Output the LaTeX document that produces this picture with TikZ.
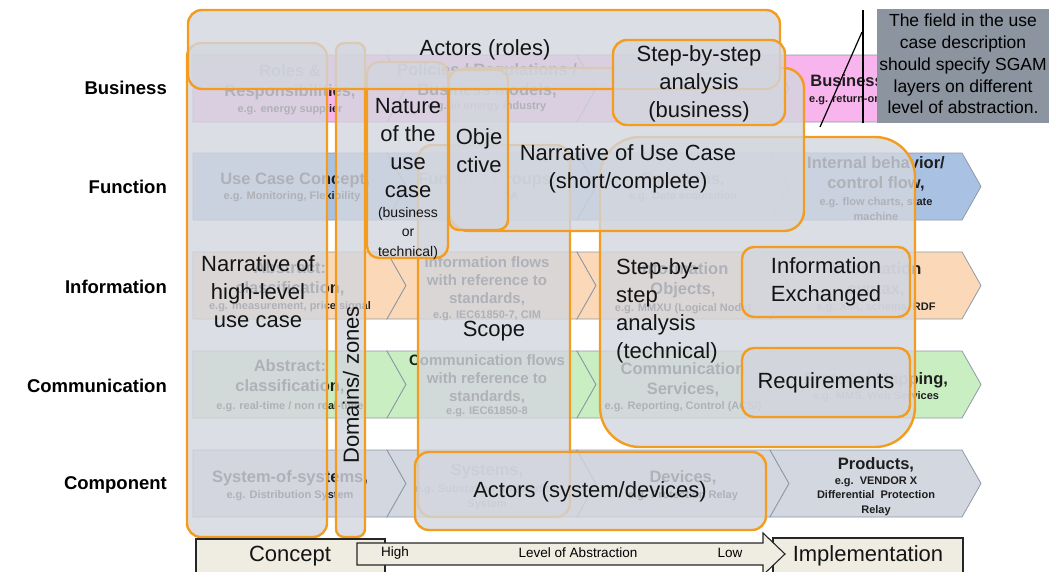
\documentclass[tikz,border=0pt]{standalone}
\usepackage{fontspec}
\setmainfont{Liberation Sans}
\usetikzlibrary{calc}

\definecolor{ovfill}{HTML}{D3D6DE}
\definecolor{ovline}{HTML}{F39C1F}
\definecolor{bizpink}{HTML}{F8B4EC}
\definecolor{funblue}{HTML}{A9C2E3}
\definecolor{infpeach}{HTML}{FBD9B8}
\definecolor{comgreen}{HTML}{C9EEC2}
\definecolor{cmpgray}{HTML}{D3D7E0}
\definecolor{chevline}{HTML}{8E98A6}
\definecolor{notegray}{HTML}{8C949F}
\definecolor{beige}{HTML}{EFEDE2}
\definecolor{inkdark}{HTML}{1E1E1E}

% chevron with a flat left end / with a notched left end
\newcommand{\chevflat}[4]{\draw[chev, fill=#4] (#1,#3) -- (#2,#3) -- (#2+19,#3+33.5) -- (#2,#3+67) -- (#1,#3+67) -- cycle;}
\newcommand{\chevnotch}[4]{\draw[chev, fill=#4] (#1,#3) -- (#2,#3) -- (#2+19,#3+33.5) -- (#2,#3+67) -- (#1,#3+67) -- (#1+19,#3+33.5) -- cycle;}

\begin{document}
\begin{tikzpicture}[x=1pt,y=-1pt,
  chev/.style={draw=chevline, line width=0.8pt},
  ct/.style={align=center, inner sep=0, text=inkdark, font=\bfseries\fontsize{16.5}{20}\selectfont},
  cts/.style={align=center, inner sep=0, text=inkdark, font=\bfseries\fontsize{15}{18}\selectfont},
  cs/.style={align=center, inner sep=0, text=inkdark, font=\bfseries\fontsize{11}{14.5}\selectfont},
  ov/.style={draw=ovline, line width=2.4pt, fill=ovfill, fill opacity=0.8, rounded corners=14pt},
  ovt/.style={align=center, inner sep=0, text=black!92, font=\fontsize{22}{28}\selectfont},
  layer/.style={anchor=east, inner sep=0, text=black, font=\bfseries\fontsize{18.5}{22}\selectfont},
  bot/.style={draw=black!85, line width=1.1pt, fill=beige},
  note/.style={align=center, inner sep=0, text=black, font=\fontsize{17.5}{21.8}\selectfont}]
\useasboundingbox (0,0) rectangle (1049,571);
\clip (0,0) rectangle (1049,571);

% ---------- layer chevrons ----------
\foreach \yt/\col in {55/bizpink,153/funblue,252/infpeach,351/comgreen,450/cmpgray}{
  \chevflat{193}{387}{\yt}{\col}
  \chevnotch{387}{577}{\yt}{\col}
  \chevnotch{577}{770}{\yt}{\col}
  \chevnotch{770}{962}{\yt}{\col}
}

% Business
\node[ct] (b1t) at (290,82) {Roles \&\\Responsibilities,};
\node[cs] (b1s) at (290,110) {e.g. energy supplier};
\node[ct] (b2t) at (487,81) {Policies / Regulations /\\Business Models,};
\node[cs] (b2s) at (487,107) {e.g. in energy industry};
\node[ct] (b4t) at (876,82) {Business Cases,};
\node[cs] (b4s) at (876,100) {e.g. return-on-investment};
% Function
\node[ct] (f1t) at (295,180) {Use Case Concept,};
\node[cs] (f1s) at (292,197) {e.g. Monitoring, Flexibility};
\node[ct] (f2t) at (487,180) {Function Groups,};
\node[cs] (f2s) at (487,197) {e.g. SCADA};
\node[ct] (f3t) at (683,180) {Functions,};
\node[cs] (f3s) at (683,197) {e.g. Data acquisition};
\node[ct] (f4t) at (876,174) {Internal behavior/\\control flow,};
\node[cs] (f4s) at (876,209) {e.g. flow charts, state\\machine};
% Information
\node[ct] (i1t) at (290,279) {Abstract:\\classification,};
\node[cs] (i1s) at (290,307) {e.g. measurement, price signal};
\node[cts] (i2t) at (487,281) {Information flows\\with reference to\\standards,};
\node[cs] (i2s) at (487,316) {e.g. IEC61850-7, CIM};
\node[ct] (i3t) at (683,280) {Information\\Objects,};
\node[cs] (i3s) at (683,309) {e.g. MMXU (Logical Node)};
\node[ct] (i4t) at (876,280) {Information\\syntax,};
\node[cs] (i4s) at (876,308) {e.g. XML schema, RDF};
% Communication
\node[ct] (m1t) at (290,377) {Abstract:\\classification,};
\node[cs] (m1s) at (290,407) {e.g. real-time / non real-time};
\node[cts] (m2t) at (487,379) {Communication flows\\with reference to\\standards,};
\node[cs] (m2s) at (487,412) {e.g. IEC61850-8};
\node[ct] (m3t) at (683,380) {Communication\\Services,};
\node[cs] (m3s) at (683,407) {e.g. Reporting, Control (ACSI)};
\node[ct] (m4t) at (876,380) {Protocol Mapping,};
\node[cs] (m4s) at (876,397) {e.g. MMS, Web Services};
% Component
\node[ct] (p1t) at (290,478) {System-of-systems,};
\node[cs] (p1s) at (290,496) {e.g. Distribution System};
\node[ct] (p2t) at (487,471) {Systems,};
\node[cs] (p2s) at (487,497) {e.g. Substation Automation\\System};
\node[ct] (p3t) at (683,478) {Devices,};
\node[cs] (p3s) at (683,496) {e.g. Protection Relay};
\node[ct] (p4t) at (876,465) {Products,};
\node[cs] (p4s) at (876,496) {e.g.\ \ VENDOR X\\Differential\ \ Protection\\Relay};

% ---------- layer names ----------
\node[layer] (lbus) at (167,88) {Business};
\node[layer] (lfun) at (167,187) {Function};
\node[layer] (linf) at (167,287) {Information};
\node[layer] (lcom) at (167,386) {Communication};
\node[layer] (lcmp) at (167,485) {Component};

% ---------- use case description fields ----------
\draw[ov] (187,43) rectangle (327,537);
\node[ovt] (hl) at (258,292) {Narrative of\\high-level\\use case};

\draw[ov, rounded corners=8pt] (336,43) rectangle (365,537);
\node[ovt, rotate=90] (dz) at (351,385) {Domains/ zones};

\draw[ov] (418,145) rectangle (570,517);
\node[ovt] (scope) at (494,331) {Scope};

\draw[ov, rounded corners=40pt] (600,137) rectangle (915,447);
\node[ovt, align=left, anchor=west] (sbt) at (616,311) {Step-by-\\step\\analysis\\(technical)};

\draw[ov, rounded corners=12pt] (367,62) rectangle (448,258);
\node[ovt] (nat) at (408,148) {Nature\\of the\\use\\case};
\node[ovt, font=\fontsize{14}{19.5}\selectfont] (natsub) at (408,233) {(business\\or\\technical)};

\draw[ov, rounded corners=20pt] (449,68) rectangle (804,231);
\node[ovt] (nuc) at (628,169) {Narrative of Use Case\\(short/complete)};

\draw[ov, rounded corners=10pt] (449,70) rectangle (508,230);
\node[ovt] (obj) at (479,151) {Obje\\ctive};

\draw[ov] (188,10) rectangle (780,89);
\node[ovt] (roles) at (485,50) {Actors (roles)};

\draw[ov] (613,40) rectangle (785,125);
\node[ovt] (sbb) at (699,84) {Step-by-step\\analysis\\(business)};

\draw[ov, rounded corners=12pt] (742,247) rectangle (910,317);
\node[ovt] (ie) at (826,282) {Information\\Exchanged};

\draw[ov, rounded corners=12pt] (742,348) rectangle (910,417);
\node[ovt] (req) at (826,383) {Requirements};

\draw[ov] (415,452) rectangle (766,530);
\node[ovt] (asd) at (590,492) {Actors (system/devices)};

% ---------- remark ----------
\fill[notegray] (877,9) rectangle (1049,123);
\node[note] (rem) at (963,64) {The field in the use\\case description\\should specify SGAM\\layers on different\\level of abstraction.};
\coordinate (vtop) at (863,10);
\coordinate (vbot) at (863,123);
\coordinate (dtop) at (862,32);
\coordinate (dbot) at (820,127);
\draw[black, line width=1.2pt] (vtop) -- (vbot);
\draw[black, line width=1.2pt] (dtop) -- (dbot);

% ---------- level of abstraction ----------
\draw[bot] (196,539) rectangle (385,590);
\node[ovt] (concept) at (290,556) {Concept};
\draw[bot] (773,538) rectangle (963,590);
\draw[bot] (357,543) -- (763,543) -- (763,533) -- (785,554) -- (763,575) -- (763,565) -- (357,565) -- cycle;
\node[ovt] (impl) at (868,556) {Implementation};
\node[inner sep=0, font=\fontsize{13.5}{16}\selectfont] (high) at (395,553) {High};
\node[inner sep=0, font=\fontsize{13.5}{16}\selectfont] (loa) at (578,553) {Level of Abstraction};
\node[inner sep=0, font=\fontsize{13.5}{16}\selectfont] (low) at (730,553) {Low};
\end{tikzpicture}
\end{document}
